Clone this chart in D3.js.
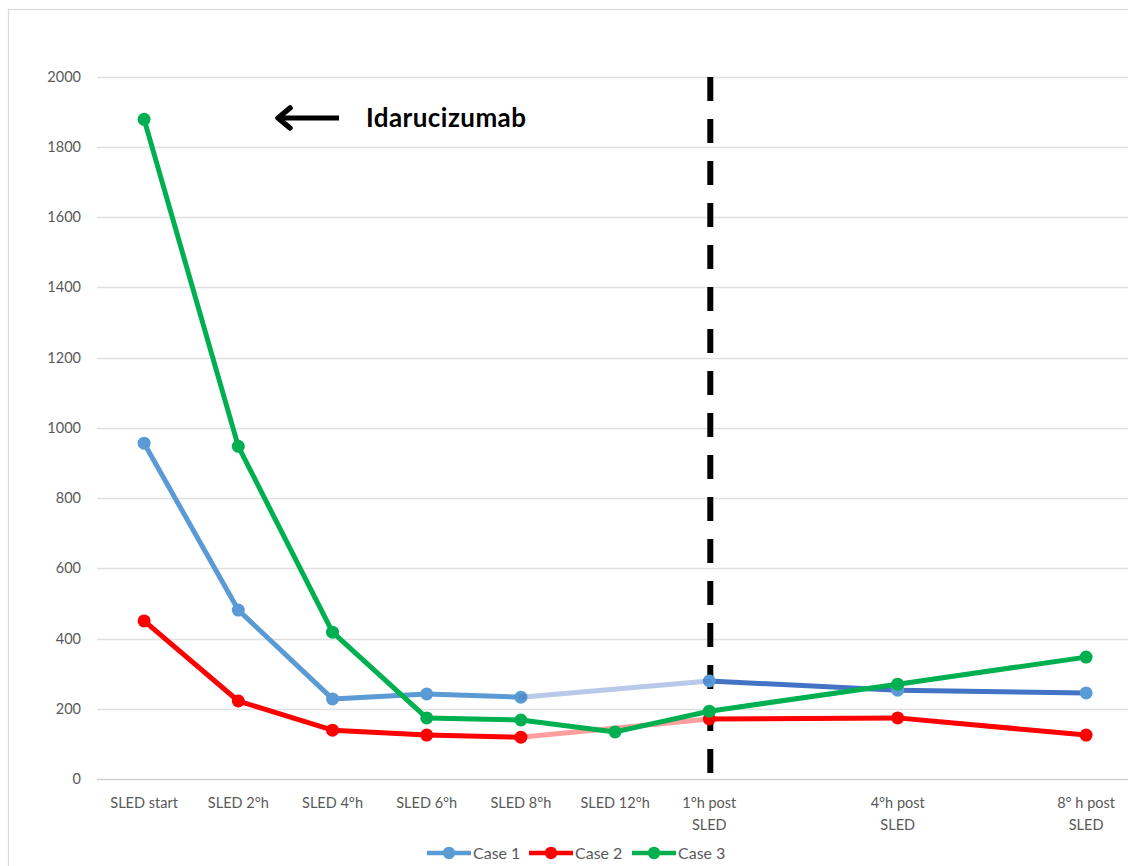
<!DOCTYPE html>
<html>
<head>
<meta charset="utf-8">
<script src="https://cdn.jsdelivr.net/npm/d3@7"></script>
<style>
  html, body { margin: 0; padding: 0; background: #fff; }
  svg { display: block; }
  text { font-family: Lato, "Open Sans", sans-serif; }
</style>
</head>
<body>
<svg id="chart" width="1128" height="866"></svg>
<script>
// Time points (two spacer slots keep the post-SLED readings further apart)
const categories = [
  "SLED start", "SLED 2°h", "SLED 4°h", "SLED 6°h", "SLED 8°h", "SLED 12°h",
  "1°h post|SLED", "", "4°h post|SLED", "", "8° h post|SLED"
];
const yTicks = [0, 200, 400, 600, 800, 1000, 1200, 1400, 1600, 1800, 2000];

// null = no measurement at that time point
const case1 = [956, 481, 228, 242, 233, null, 279, null, 253, null, 245];
const case2 = [450, 222, 139, 125, 119, null, 171, null, 174, null, 125];
const case3 = [1878, 947, 418, 174, 168, 134, 193, null, 270, null, 347];

const seriesNames = ["Case 1", "Case 2", "Case 3"];
const seriesColors = ["#5b9bd5", "#ff0000", "#00b050"];
const postColors = ["#4472c4", "#ff0000", "#00b050"];

const svg = d3.select("#chart");
const W = 1128, H = 866;

// outer chart frame
svg.append("rect").attr("x", 8.5).attr("y", 9.5).attr("width", W + 20).attr("height", H + 20)
  .attr("fill", "#fff").attr("stroke", "#d9d9d9").attr("stroke-width", 1.2);

const plot = { left: 97, right: 97 + 94.2 * 11, top: 76.5, bottom: 779 };

const x = d3.scaleBand().domain(d3.range(categories.length))
  .range([plot.left, plot.right]).padding(0);
const cx = i => x(i) + x.bandwidth() / 2;
const y = d3.scaleLinear().domain([0, 2000]).range([plot.bottom, plot.top]);

// horizontal gridlines
svg.append("g").selectAll("line").data(yTicks).join("line")
  .attr("x1", plot.left).attr("x2", W)
  .attr("y1", d => Math.round(y(d)) + 0.5).attr("y2", d => Math.round(y(d)) + 0.5)
  .attr("stroke", d => d === 0 ? "#cfcfcf" : "#e0e0e0").attr("stroke-width", 1.3);

// y axis labels
const yAxis = d3.axisLeft(y).tickValues(yTicks).tickFormat(d3.format("d")).tickSize(0).tickPadding(0);
const gy = svg.append("g").attr("transform", `translate(81,0)`).call(yAxis);
gy.select(".domain").remove();
gy.selectAll("text").attr("fill", "#595959").attr("font-size", 14.5)
  .attr("font-family", "Lato, 'Open Sans', sans-serif");

// x axis labels (multi-line)
const gx = svg.append("g");
categories.forEach((c, i) => {
  if (!c) return;
  const lines = c.split("|");
  const t = gx.append("text").attr("x", cx(i)).attr("y", 808)
    .attr("text-anchor", "middle").attr("fill", "#595959").attr("font-size", 14.5);
  lines.forEach((ln, k) => t.append("tspan").attr("x", cx(i)).attr("dy", k === 0 ? 0 : 22).text(ln));
});

// dashed separator at end of SLED
svg.append("line").attr("x1", cx(6) + 1).attr("x2", cx(6) + 1)
  .attr("y1", y(2000) + 0.5).attr("y2", 775)
  .attr("stroke", "#000").attr("stroke-width", 6).attr("stroke-dasharray", "24 18");

const line = d3.line().x(d => cx(d.i)).y(d => y(d.v));
const allSeries = [case1, case2, case3];

// consecutive measured points; segments spanning a missing reading are faded
function segments(vals) {
  const pts = vals.map((v, i) => ({ i, v })).filter(d => d.v !== null);
  const segs = [];
  for (let k = 0; k < pts.length - 1; k++) segs.push([pts[k], pts[k + 1]]);
  return segs;
}

allSeries.forEach((vals, s) => {
  const g = svg.append("g");
  segments(vals).forEach(([a, b]) => {
    const bridged = (b.i - a.i > 1) && b.i <= 6;
    const post = a.i >= 6;
    g.append("path").datum([a, b]).attr("d", line)
      .attr("fill", "none")
      .attr("stroke", bridged ? (s === 0 ? "#4472c4" : seriesColors[s]) : (post ? postColors[s] : seriesColors[s]))
      .attr("stroke-opacity", bridged ? 0.38 : 1)
      .attr("stroke-width", 5).attr("stroke-linecap", "round").attr("stroke-linejoin", "round")
      .attr("class", bridged ? "bridge" : "seg");
  });
  g.selectAll("circle").data(vals.map((v, i) => ({ i, v })).filter(d => d.v !== null)).join("circle")
    .attr("cx", d => cx(d.i)).attr("cy", d => y(d.v)).attr("r", 6.5)
    .attr("fill", seriesColors[s]);
});
// bridges sit on top of the other series
svg.selectAll(".bridge").raise();

// annotation arrow + label
const arrowY = 118;
svg.append("line").attr("x1", 282).attr("x2", 339).attr("y1", arrowY).attr("y2", arrowY)
  .attr("stroke", "#000").attr("stroke-width", 5);
svg.append("path")
  .attr("d", `M ${290} ${arrowY - 10} L ${278} ${arrowY} L ${290} ${arrowY + 10}`)
  .attr("fill", "none").attr("stroke", "#000").attr("stroke-width", 5.5)
  .attr("stroke-linecap", "round").attr("stroke-linejoin", "round");
svg.append("text").attr("x", 366).attr("y", 127).attr("font-size", 26).attr("font-weight", "bold")
  .attr("fill", "#000").attr("textLength", 160).text("Idarucizumab");

// legend
const legendX = [427, 529, 632];
seriesNames.forEach((n, s) => {
  const lg = svg.append("g").attr("transform", `translate(${legendX[s]},853)`);
  lg.append("line").attr("x1", 0).attr("x2", 44).attr("y1", 0).attr("y2", 0)
    .attr("stroke", seriesColors[s]).attr("stroke-width", 4.5);
  lg.append("circle").attr("cx", 22).attr("cy", 0).attr("r", 6.2).attr("fill", seriesColors[s]);
  lg.append("text").attr("x", 46).attr("y", 5.5).attr("font-size", 16).attr("fill", "#595959").text(n);
});
</script>
</body>
</html>
